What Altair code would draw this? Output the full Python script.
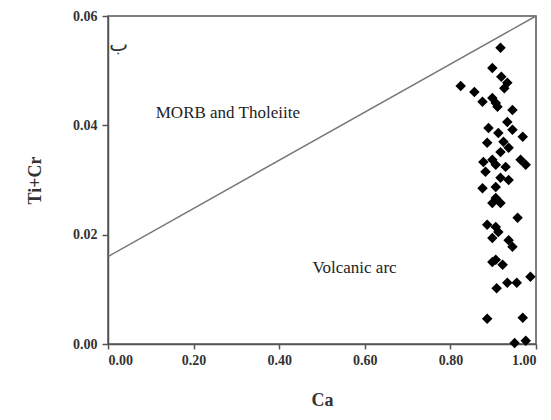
import altair as alt
import pandas as pd

ca = [0.824, 0.917, 0.898, 0.919, 0.933, 0.926, 0.856, 0.875, 0.898, 0.906, 0.910, 0.945,
      0.933, 0.889, 0.945, 0.912, 0.969, 0.886, 0.924, 0.936, 0.917, 0.877, 0.898, 0.906,
      0.929, 0.964, 0.976, 0.882, 0.917, 0.936, 0.875, 0.906,
      0.906, 0.917, 0.898, 0.957, 0.886, 0.906, 0.912, 0.898, 0.936, 0.945, 0.906,
      0.898, 0.922, 0.987, 0.933, 0.955, 0.908, 0.886, 0.969, 0.950, 0.976]
ticr = [0.0472, 0.0542, 0.0505, 0.0489, 0.0478, 0.0468, 0.0461, 0.0443, 0.0450, 0.0441, 0.0434, 0.0428,
        0.0406, 0.0395, 0.0392, 0.0386, 0.0379, 0.0368, 0.0370, 0.0359, 0.0351, 0.0333, 0.0337, 0.0328,
        0.0324, 0.0337, 0.0328, 0.0315, 0.0304, 0.0300, 0.0285, 0.0287,
        0.0267, 0.0258, 0.0258, 0.0231, 0.0218, 0.0214, 0.0205, 0.0194, 0.0190, 0.0178, 0.0154,
        0.0150, 0.0145, 0.0123, 0.0112, 0.0112, 0.0102, 0.0046, 0.0048, 0.0002, 0.0006]

line_x = [0.0, 1.0]
line_y = [0.016, 0.060]

label_text = ["MORB and Tholeiite", "Volcanic arc"]
label_x = [0.28, 0.576]
label_y = [0.0423, 0.0139]

panel_text = ["ب"]
panel_x = [0.025]
panel_y = [0.0547]

pts = pd.DataFrame({"Ca": ca, "TiCr": ticr})
ln = pd.DataFrame({"Ca": line_x, "TiCr": line_y})
lab = pd.DataFrame({"Ca": label_x, "TiCr": label_y, "t": label_text})
pan = pd.DataFrame({"Ca": panel_x, "TiCr": panel_y, "t": panel_text})

FONT = "Liberation Serif"

xs = alt.Scale(domain=[0, 1], nice=False)
ys = alt.Scale(domain=[0, 0.06], nice=False)

xenc = alt.X("Ca:Q", scale=xs, title="Ca",
             axis=alt.Axis(values=[0, 0.2, 0.4, 0.6, 0.8, 1.0], format=".2f", grid=False,
                           domainColor="#555", domainWidth=1.5, tickColor="#555", tickWidth=1.5,
                           tickSize=5, labelFont=FONT, labelFontSize=14, labelFontWeight="bold",
                           labelColor="#333", labelPadding=4, titleFont=FONT, titleFontSize=18,
                           titleFontWeight="bold", titleColor="#333", titlePadding=24))
yenc = alt.Y("TiCr:Q", scale=ys, title="Ti+Cr",
             axis=alt.Axis(values=[0, 0.02, 0.04, 0.06], format=".2f", grid=False,
                           domainColor="#555", domainWidth=1.5, tickColor="#555", tickWidth=1.5,
                           tickSize=6, labelFont=FONT, labelFontSize=14, labelFontWeight="bold",
                           labelColor="#333", labelPadding=5, titleFont=FONT, titleFontSize=18,
                           titleFontWeight="bold", titleColor="#333", titlePadding=28))

line = alt.Chart(ln).mark_line(color="#777", strokeWidth=1.5).encode(x=xenc, y=yenc)
points = alt.Chart(pts).mark_point(shape="diamond", filled=True, color="black", size=110, opacity=1).encode(x="Ca:Q", y="TiCr:Q")
labels = alt.Chart(lab).mark_text(font=FONT, fontSize=17, color="#222").encode(x="Ca:Q", y="TiCr:Q", text="t:N")
panel = alt.Chart(pan).mark_text(font="DejaVu Sans", fontSize=20, color="#333").encode(x="Ca:Q", y="TiCr:Q", text="t:N")

chart = alt.layer(line, points, labels, panel).properties(
    width=428, height=328,
    autosize=alt.AutoSizeParams(type="none"),
    padding={"left": 100, "top": 8, "right": 5, "bottom": 68},
).configure_view(stroke="#555", strokeWidth=1.5)

chart.save("out.html", embed_options={"renderer": "svg", "actions": False})
